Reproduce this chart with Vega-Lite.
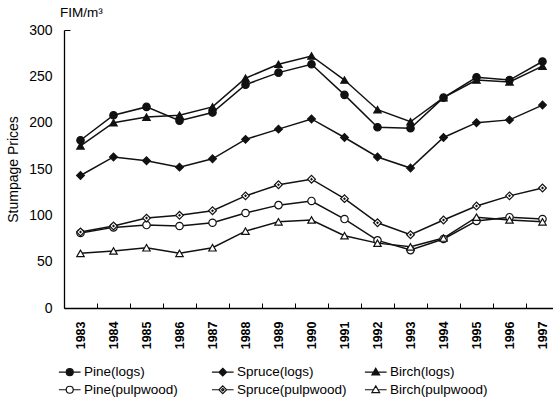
{
  "$schema": "https://vega.github.io/schema/vega-lite/v6.json",
  "width": 489,
  "height": 278,
  "autosize": {"type": "none"},
  "padding": {"left": 64, "top": 30, "right": 0, "bottom": 89},
  "background": "white",
  "config": {"view": {"stroke": null}, "font": "Liberation Sans"},
  "title": {"text": "FIM/m³", "anchor": "start", "frame": "group", "fontSize": 13.5, "fontWeight": "normal", "offset": 4, "dx": -4, "color": "black", "font": "Liberation Sans"},
  "data": {"values": [
    {"year": "1983", "series": "Pine(logs)", "value": 181},
    {"year": "1984", "series": "Pine(logs)", "value": 208},
    {"year": "1985", "series": "Pine(logs)", "value": 217},
    {"year": "1986", "series": "Pine(logs)", "value": 202},
    {"year": "1987", "series": "Pine(logs)", "value": 211},
    {"year": "1988", "series": "Pine(logs)", "value": 241},
    {"year": "1989", "series": "Pine(logs)", "value": 254},
    {"year": "1990", "series": "Pine(logs)", "value": 263},
    {"year": "1991", "series": "Pine(logs)", "value": 230},
    {"year": "1992", "series": "Pine(logs)", "value": 195},
    {"year": "1993", "series": "Pine(logs)", "value": 194},
    {"year": "1994", "series": "Pine(logs)", "value": 227},
    {"year": "1995", "series": "Pine(logs)", "value": 249},
    {"year": "1996", "series": "Pine(logs)", "value": 246},
    {"year": "1997", "series": "Pine(logs)", "value": 266},
    {"year": "1983", "series": "Spruce(logs)", "value": 143},
    {"year": "1984", "series": "Spruce(logs)", "value": 163},
    {"year": "1985", "series": "Spruce(logs)", "value": 159},
    {"year": "1986", "series": "Spruce(logs)", "value": 152},
    {"year": "1987", "series": "Spruce(logs)", "value": 161},
    {"year": "1988", "series": "Spruce(logs)", "value": 182},
    {"year": "1989", "series": "Spruce(logs)", "value": 193},
    {"year": "1990", "series": "Spruce(logs)", "value": 204},
    {"year": "1991", "series": "Spruce(logs)", "value": 184},
    {"year": "1992", "series": "Spruce(logs)", "value": 163},
    {"year": "1993", "series": "Spruce(logs)", "value": 151},
    {"year": "1994", "series": "Spruce(logs)", "value": 184},
    {"year": "1995", "series": "Spruce(logs)", "value": 200},
    {"year": "1996", "series": "Spruce(logs)", "value": 203},
    {"year": "1997", "series": "Spruce(logs)", "value": 219},
    {"year": "1983", "series": "Birch(logs)", "value": 175},
    {"year": "1984", "series": "Birch(logs)", "value": 200},
    {"year": "1985", "series": "Birch(logs)", "value": 206},
    {"year": "1986", "series": "Birch(logs)", "value": 208},
    {"year": "1987", "series": "Birch(logs)", "value": 217},
    {"year": "1988", "series": "Birch(logs)", "value": 248},
    {"year": "1989", "series": "Birch(logs)", "value": 263},
    {"year": "1990", "series": "Birch(logs)", "value": 272},
    {"year": "1991", "series": "Birch(logs)", "value": 246},
    {"year": "1992", "series": "Birch(logs)", "value": 214},
    {"year": "1993", "series": "Birch(logs)", "value": 201},
    {"year": "1994", "series": "Birch(logs)", "value": 227},
    {"year": "1995", "series": "Birch(logs)", "value": 246},
    {"year": "1996", "series": "Birch(logs)", "value": 244},
    {"year": "1997", "series": "Birch(logs)", "value": 261},
    {"year": "1983", "series": "Pine(pulpwood)", "value": 81},
    {"year": "1984", "series": "Pine(pulpwood)", "value": 87},
    {"year": "1985", "series": "Pine(pulpwood)", "value": 89.5},
    {"year": "1986", "series": "Pine(pulpwood)", "value": 88.5},
    {"year": "1987", "series": "Pine(pulpwood)", "value": 92},
    {"year": "1988", "series": "Pine(pulpwood)", "value": 102.5},
    {"year": "1989", "series": "Pine(pulpwood)", "value": 111},
    {"year": "1990", "series": "Pine(pulpwood)", "value": 115.5},
    {"year": "1991", "series": "Pine(pulpwood)", "value": 96},
    {"year": "1992", "series": "Pine(pulpwood)", "value": 73},
    {"year": "1993", "series": "Pine(pulpwood)", "value": 62.5},
    {"year": "1994", "series": "Pine(pulpwood)", "value": 74.5},
    {"year": "1995", "series": "Pine(pulpwood)", "value": 94},
    {"year": "1996", "series": "Pine(pulpwood)", "value": 98},
    {"year": "1997", "series": "Pine(pulpwood)", "value": 96},
    {"year": "1983", "series": "Spruce(pulpwood)", "value": 82},
    {"year": "1984", "series": "Spruce(pulpwood)", "value": 88.5},
    {"year": "1985", "series": "Spruce(pulpwood)", "value": 97},
    {"year": "1986", "series": "Spruce(pulpwood)", "value": 100},
    {"year": "1987", "series": "Spruce(pulpwood)", "value": 105},
    {"year": "1988", "series": "Spruce(pulpwood)", "value": 121},
    {"year": "1989", "series": "Spruce(pulpwood)", "value": 133},
    {"year": "1990", "series": "Spruce(pulpwood)", "value": 139},
    {"year": "1991", "series": "Spruce(pulpwood)", "value": 118},
    {"year": "1992", "series": "Spruce(pulpwood)", "value": 92},
    {"year": "1993", "series": "Spruce(pulpwood)", "value": 79},
    {"year": "1994", "series": "Spruce(pulpwood)", "value": 95},
    {"year": "1995", "series": "Spruce(pulpwood)", "value": 110},
    {"year": "1996", "series": "Spruce(pulpwood)", "value": 121},
    {"year": "1997", "series": "Spruce(pulpwood)", "value": 129.5},
    {"year": "1983", "series": "Birch(pulpwood)", "value": 59},
    {"year": "1984", "series": "Birch(pulpwood)", "value": 61.5},
    {"year": "1985", "series": "Birch(pulpwood)", "value": 65},
    {"year": "1986", "series": "Birch(pulpwood)", "value": 59},
    {"year": "1987", "series": "Birch(pulpwood)", "value": 65},
    {"year": "1988", "series": "Birch(pulpwood)", "value": 83},
    {"year": "1989", "series": "Birch(pulpwood)", "value": 93},
    {"year": "1990", "series": "Birch(pulpwood)", "value": 95},
    {"year": "1991", "series": "Birch(pulpwood)", "value": 78},
    {"year": "1992", "series": "Birch(pulpwood)", "value": 70},
    {"year": "1993", "series": "Birch(pulpwood)", "value": 66},
    {"year": "1994", "series": "Birch(pulpwood)", "value": 75.5},
    {"year": "1995", "series": "Birch(pulpwood)", "value": 98},
    {"year": "1996", "series": "Birch(pulpwood)", "value": 95},
    {"year": "1997", "series": "Birch(pulpwood)", "value": 93}
  ]},
  "encoding": {
    "x": {
      "field": "year", "type": "ordinal", "bandPosition": 0.5,
      "scale": {"type": "band", "range": [0, 495], "paddingInner": 0, "paddingOuter": 0},
      "axis": {"title": null, "labelAngle": 270, "labelFont": "Liberation Sans", "labelFontWeight": "bold", "labelFontSize": 12.5, "labelColor": "black", "tickBand": "extent", "tickSize": -5, "tickColor": "black", "domainColor": "black", "domainWidth": 1.3, "labelPadding": 18, "grid": false}
    },
    "y": {
      "field": "value", "type": "quantitative",
      "scale": {"domain": [0, 300], "nice": false, "zero": true},
      "axis": {"title": "Stumpage Prices", "titleFont": "Liberation Sans", "titleFontSize": 14, "titleFontWeight": "normal", "titleColor": "black", "titlePadding": 8, "values": [0, 50, 100, 150, 200, 250, 300], "labelFont": "Liberation Sans", "labelFontSize": 14, "labelColor": "black", "labelPadding": 18, "tickSize": -6, "tickColor": {"condition": {"test": "datum.value == 300", "value": "black"}, "value": "transparent"}, "domainColor": "black", "domainWidth": 1.3, "grid": false}
    }
  },
  "layer": [
    {"mark": {"type": "line", "color": "#111", "strokeWidth": 1.5}, "encoding": {"detail": {"field": "series"}}},
    {
      "transform": [{"filter": "indexof(datum.series, 'Pine') == 0"}],
      "mark": {"type": "point", "shape": "circle", "filled": true, "size": 55, "stroke": "#111", "strokeWidth": 1.2, "opacity": 1},
      "encoding": {"fill": {"condition": {"test": "indexof(datum.series, 'logs') >= 0", "value": "#111"}, "value": "white"}}
    },
    {
      "transform": [{"filter": "indexof(datum.series, 'Spruce') == 0"}],
      "mark": {"type": "point", "shape": "diamond", "filled": true, "size": 60, "stroke": "#111", "strokeWidth": 1.2, "opacity": 1},
      "encoding": {"fill": {"condition": {"test": "indexof(datum.series, 'logs') >= 0", "value": "#111"}, "value": "white"}}
    },
    {
      "transform": [{"filter": "indexof(datum.series, 'Birch') == 0"}],
      "mark": {"type": "point", "shape": "triangle-up", "filled": true, "size": 55, "stroke": "#111", "strokeWidth": 1.2, "opacity": 1},
      "encoding": {"fill": {"condition": {"test": "indexof(datum.series, 'logs') >= 0", "value": "#111"}, "value": "white"}}
    },
    {
      "transform": [{"filter": "datum.series == 'Spruce(pulpwood)'"}],
      "mark": {"type": "point", "shape": "diamond", "filled": true, "size": 9, "color": "#111", "opacity": 1}
    },
    {
      "mark": {"type": "point", "filled": true, "size": 49, "stroke": "#111", "strokeWidth": 1.2, "opacity": 0},
      "encoding": {
        "shape": {"field": "series", "scale": {"domain": ["Pine(logs)", "Spruce(logs)", "Birch(logs)", "Pine(pulpwood)", "Spruce(pulpwood)", "Birch(pulpwood)"], "range": [
          "M-3.1,0H-1M1,0H3.1M-1,0A1,1,0,1,0,1,0A1,1,0,1,0,-1,0Z",
          "M-3.1,0H-1.1M1.1,0H3.1M0,-1.1L1.1,0L0,1.1L-1.1,0Z",
          "M-3.1,0H-0.55M0.55,0H3.1M0,-1.1L1.1,0.8H-1.1Z",
          "M-3.1,0H-1M1,0H3.1M-1,0A1,1,0,1,0,1,0A1,1,0,1,0,-1,0Z",
          "M-3.1,0H-1.1M1.1,0H3.1M0,-1.1L1.1,0L0,1.1L-1.1,0ZM0,-0.35L0.35,0L0,0.35L-0.35,0Z",
          "M-3.1,0H-0.55M0.55,0H3.1M0,-1.1L1.1,0.8H-1.1Z"
        ]}, "legend": {"title": null, "orient": "none", "legendX": -1, "legendY": 335, "direction": "horizontal", "columns": 3, "columnPadding": 15, "rowPadding": 3, "gridAlign": "all", "labelFont": "Liberation Sans", "labelFontSize": 13.5, "labelColor": "black", "labelOffset": 7.5, "labelLimit": 0, "symbolSize": 49, "symbolStrokeColor": "#111", "symbolStrokeWidth": 1.2, "symbolOpacity": 1, "padding": 0,
          "encode": {"symbols": {"update": {"stroke": {"value": "#111"}, "strokeWidth": {"value": 1.2}, "opacity": {"value": 1}}}}}},
        "fill": {"field": "series", "scale": {"domain": ["Pine(logs)", "Spruce(logs)", "Birch(logs)", "Pine(pulpwood)", "Spruce(pulpwood)", "Birch(pulpwood)"], "range": ["#111", "#111", "#111", "white", "white", "white"]}, "legend": {"title": null, "orient": "none", "legendX": -1, "legendY": 335, "direction": "horizontal", "columns": 3, "columnPadding": 15, "rowPadding": 3, "gridAlign": "all", "labelFont": "Liberation Sans", "labelFontSize": 13.5, "labelColor": "black", "labelOffset": 7.5, "labelLimit": 0, "symbolSize": 49, "symbolStrokeColor": "#111", "symbolStrokeWidth": 1.2, "symbolOpacity": 1, "padding": 0,
          "encode": {"symbols": {"update": {"stroke": {"value": "#111"}, "strokeWidth": {"value": 1.2}, "opacity": {"value": 1}}}}}}
      }
    }
  ]
}
